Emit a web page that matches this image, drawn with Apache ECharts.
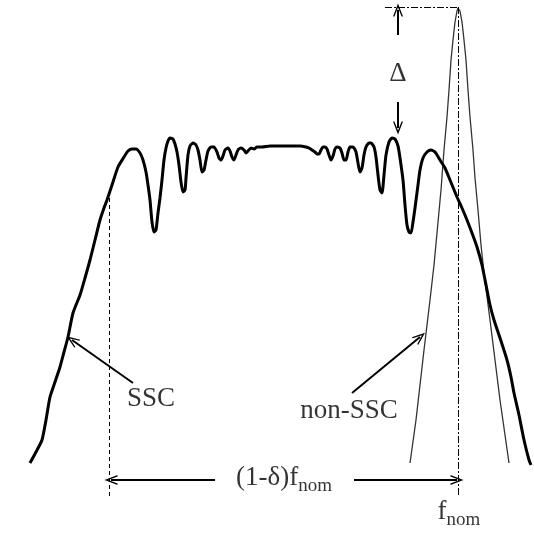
<!DOCTYPE html>
<html><head><meta charset="utf-8">
<script src="https://cdn.jsdelivr.net/npm/echarts@6/dist/echarts.min.js"></script>
<style>html,body{margin:0;padding:0;background:#fff}#c{width:534px;height:534px}</style>
</head><body><div id="c"></div>
<script>
// SSC spectrum (frequency units, relative level units; level axis points down)
const sscFreq = [30,36,42,46,50,55,60,64,68,73,80,85,90,95,100,104,107,113,118,124,128,132,136,140,143,146,148,150,152,154,156,158,160,162,164,166,168,170,173,175,177,179,181,183,185,186,188,190,193,196,198,200,202,204,206,208,211,214,217,219,221,223,225,228,230,232,234,236,238,241,244,246,248,251,254,257,262,270,280,290,300,306,309,312,315,317,319,321,323,325,327,329,331,333,335,337,340,342,344,346,348,350,353,356,358,360,362,364,366,369,371,374,376,378,380,382,384,386,389,392,395,398,400,403,405,407,409,411,413,415,418,420,423,427,431,435,440,445,450,457,462,467,472,477,482,487,490,494,500,507,511,514,519,524,529,531];
const sscLevel = [463,452,440,420,397,382,367,352,337,313,295,278,260,240,220,208,200,182,167,157,151,149,149,153,160,172,185,200,222,232,230,213,198,180,160,148,141,138,139,144,152,165,182,192,190,178,155,146,143,145,150,160,172,170,160,151,147,147,152,158,160,156,150,148,151,157,160,155,150,148,150,153,151,148,149,147,147,146,146,146,146,147,148,150,152,154,154,150,147,147,149,155,160,156,149,147,148,153,160,160,152,147,147,152,163,172,168,155,147,143,143,147,157,175,190,193,175,155,142,138,139,146,158,180,205,225,232,233,222,208,185,170,158,152,150,152,160,168,180,197,208,220,233,247,265,290,305,320,338,360,377,393,415,440,460,465];
// non-SSC (single tone) spectrum
const nonSscFreq = [410,416,424,430,434,437,441,444,447,449,451,453,455,457,458,460,462,464,466,468,470,473,475,478,481,484,490,495,500,505,509];
const nonSscLevel = [463,420,350,300,265,233,190,150,117,90,60,40,22,11,8,11,22,40,60,90,117,150,178,210,245,273,320,360,400,435,463];
// key frequencies / levels
const fNom = 458;
const fLow = 109;
const peakLevel = 7;
const axisLevel = 497;

// annotation texts
const labelTexts = ['SSC', 'non-SSC', 'Δ', '{m|(1-δ)f}{s|nom}', '{m|f}{s|nom}'];
const labelAt = [[151, 399], [349, 411], [398, 74], [284, 478], [459, 512]];

const chevron = 'path://M0,10 L5,0 L10,10 L8.6,10 L5,3 L1.4,10 Z';
function arrow(a, b) { return [{ coord: a }, { coord: b }]; }

const serif = 'Liberation Serif';
const chart = echarts.init(document.getElementById('c'));
chart.setOption({
  animation: false,
  backgroundColor: '#fff',
  grid: { left: 0, right: 0, top: 0, bottom: 0 },
  xAxis: { type: 'value', min: 0, max: 534, show: false },
  yAxis: { type: 'value', min: 0, max: 534, inverse: true, show: false },
  series: [
    {
      type: 'line', name: 'SSC', showSymbol: false, smooth: 0.2,
      data: sscFreq.map((f, i) => [f, sscLevel[i]]),
      lineStyle: { color: '#000', width: 3 }, z: 5
    },
    {
      type: 'line', name: 'non-SSC', showSymbol: false,
      data: nonSscFreq.map((f, i) => [f, nonSscLevel[i]]),
      lineStyle: { color: '#333', width: 1.3 }, z: 4,
      markLine: {
        silent: true, symbol: ['none', 'none'], label: { show: false },
        lineStyle: { color: '#000', width: 1 },
        data: [
          [{ coord: [fLow, 198], lineStyle: { type: [4, 3] } }, { coord: [fLow, axisLevel] }],
          [{ coord: [fNom, peakLevel], lineStyle: { type: [7, 2, 2, 2] } }, { coord: [fNom, axisLevel] }],
          [{ coord: [385, peakLevel], lineStyle: { type: [7, 2, 2, 2] } }, { coord: [fNom, peakLevel] }]
        ]
      }
    },
    {
      type: 'line', name: 'arrows', data: [], showSymbol: false,
      markLine: {
        silent: true, symbol: ['none', chevron], symbolSize: [10, 13],
        label: { show: false },
        lineStyle: { color: '#000', width: 2, type: 'solid' },
        data: [
          arrow([133, 383], [72, 340]),
          arrow([352, 393], [420, 337]),
          arrow([215, 480], [111, 480]),
          arrow([354, 480], [457, 480]),
          arrow([398, 35], [398, 10]),
          arrow([398, 102], [398, 128])
        ]
      }
    },
    {
      type: 'scatter', name: 'labels', symbolSize: 1,
      itemStyle: { color: 'rgba(0,0,0,0)' }, z: 10,
      data: labelTexts.map((t, i) => ({ value: labelAt[i], text: t })),
      label: {
        show: true, position: 'inside', color: '#000', textBorderWidth: 0,
        fontFamily: serif, fontSize: 27,
        formatter: p => p.data.text,
        rich: {
          m: { fontFamily: serif, fontSize: 27, lineHeight: 36, color: '#000', textBorderWidth: 0 },
          s: { fontFamily: serif, fontSize: 19, lineHeight: 20, padding: [16, 0, 0, 0], color: '#000', textBorderWidth: 0 }
        }
      }
    }
  ]
});
</script></body></html>
